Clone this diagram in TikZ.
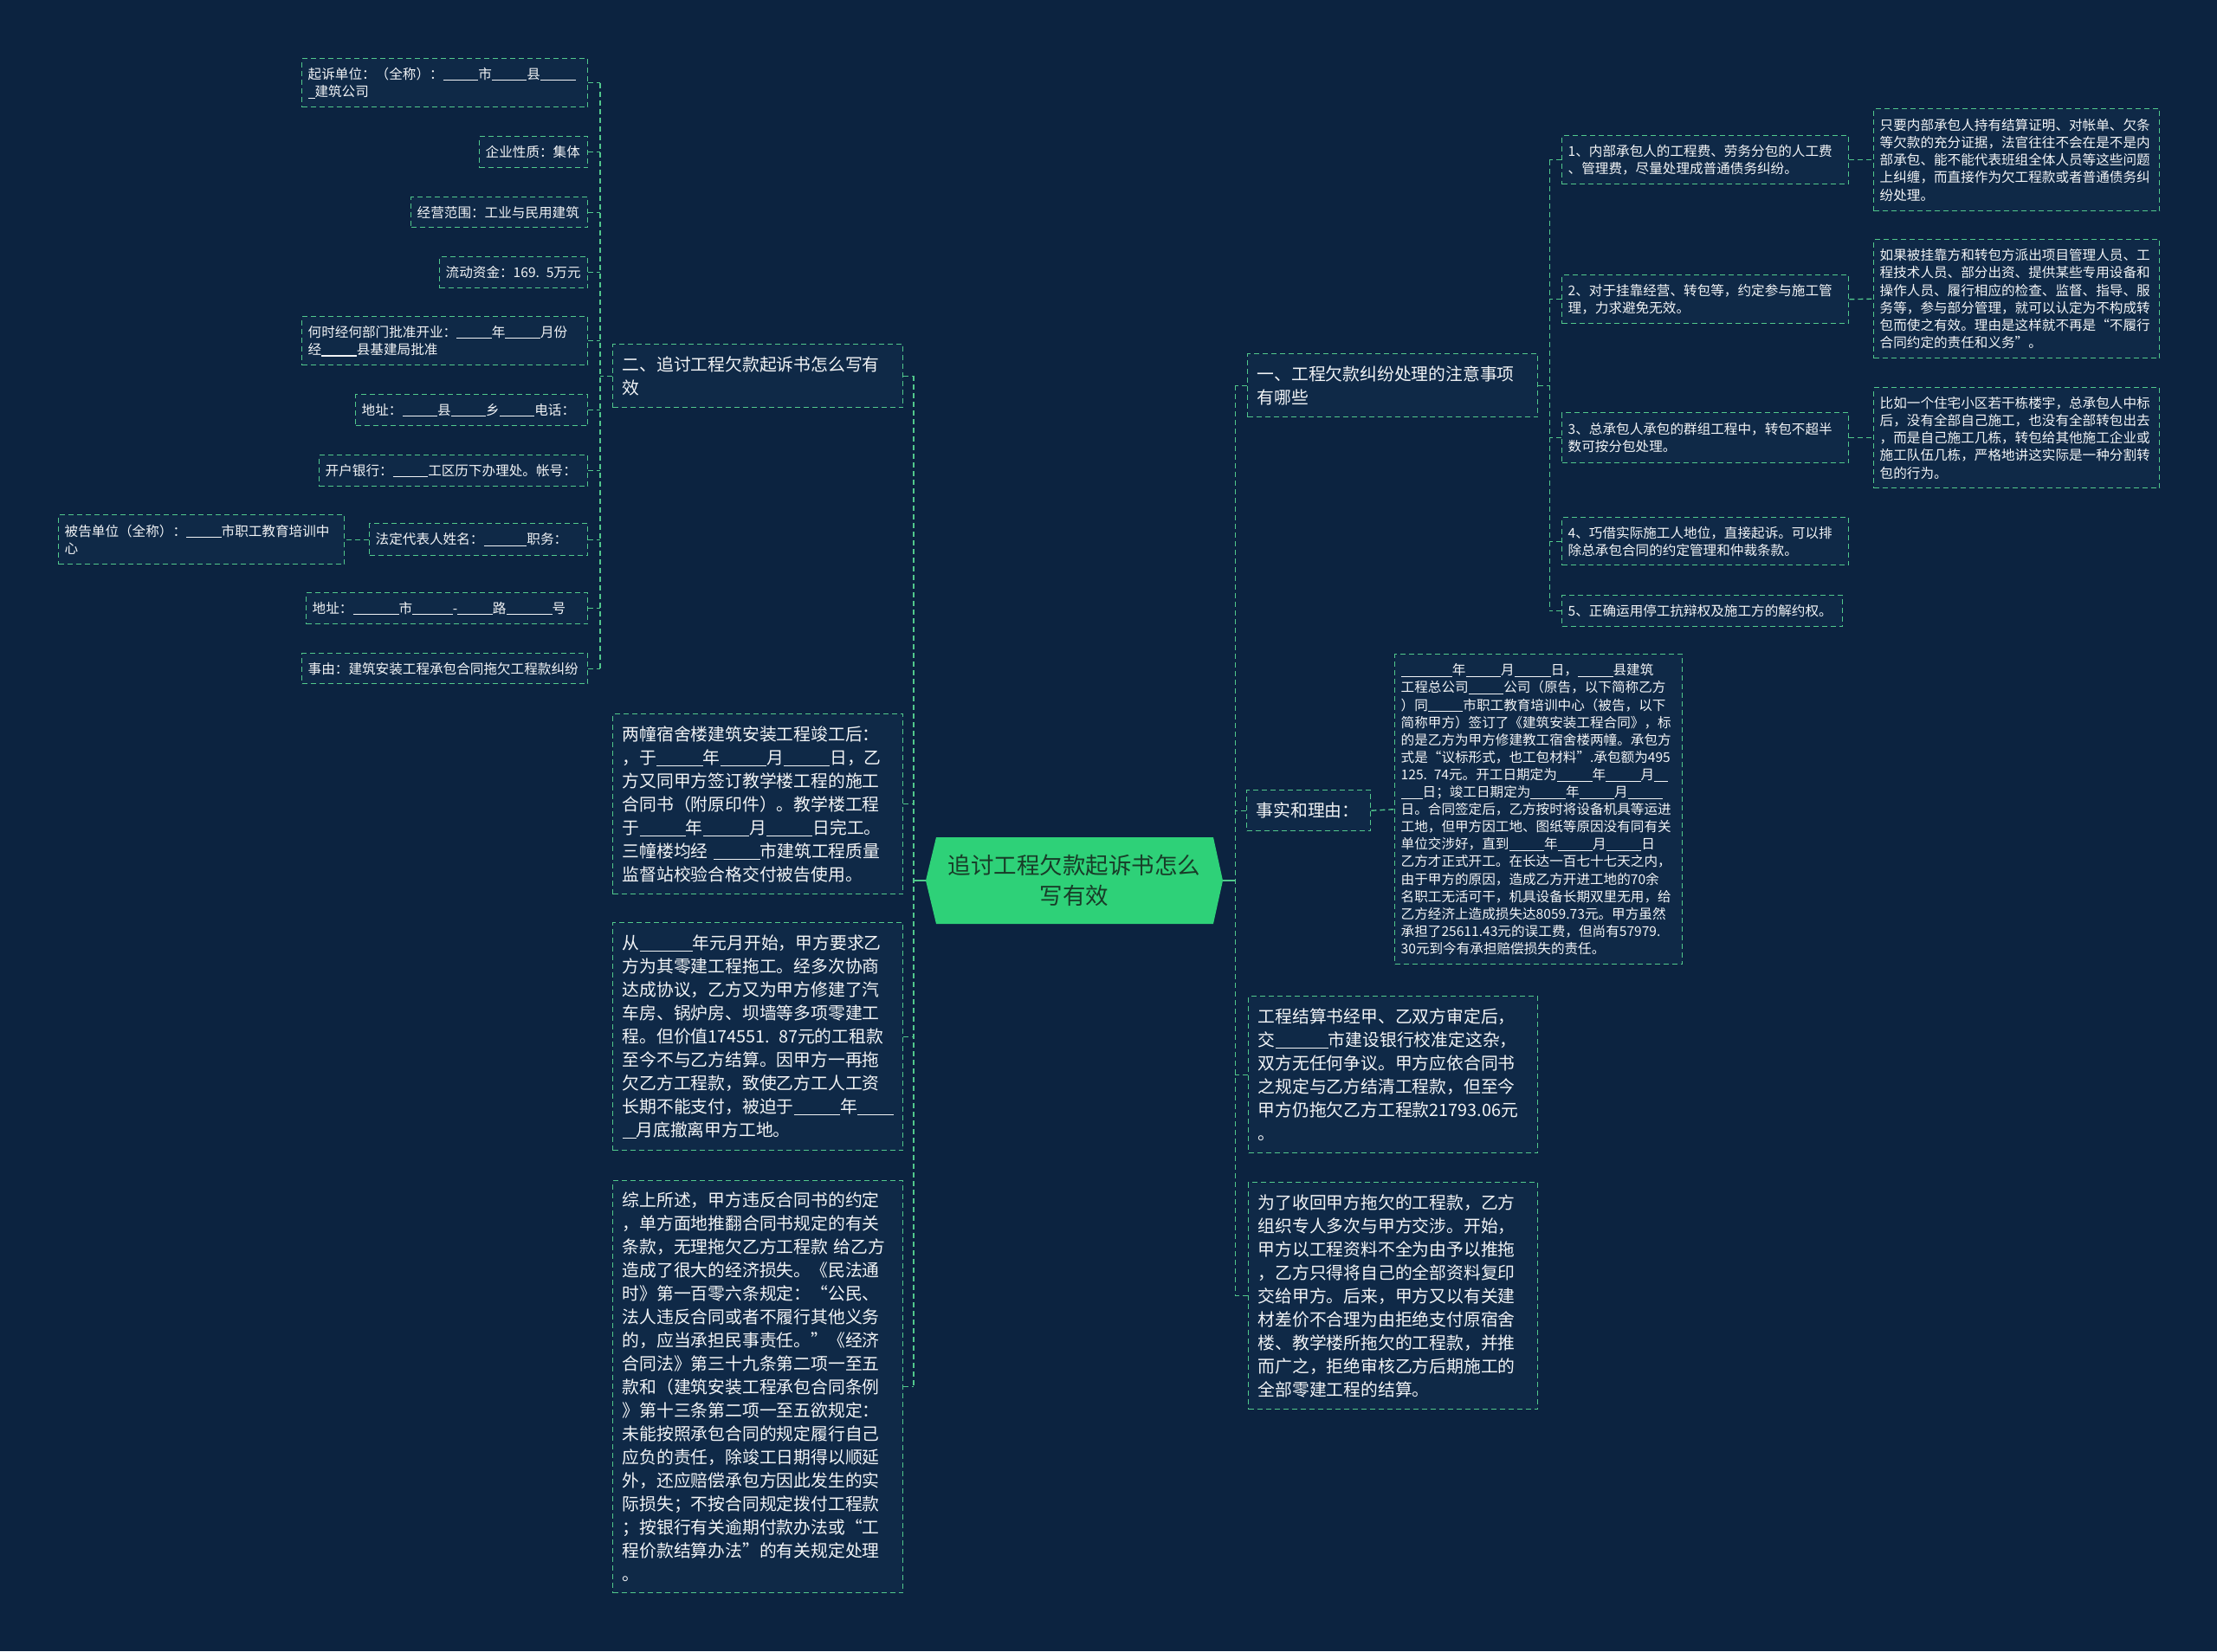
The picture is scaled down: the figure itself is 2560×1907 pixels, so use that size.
\documentclass[tikz,border=0pt]{standalone}
\usepackage{fontspec}
\setmainfont{Noto Sans CJK SC}
\usetikzlibrary{positioning}
\definecolor{bgnavy}{RGB}{12,35,64}
\definecolor{boxnavy}{RGB}{15,41,71}
\definecolor{linkgreen}{RGB}{82,200,140}
\definecolor{rootgreen}{RGB}{46,209,120}
\definecolor{roottext}{RGB}{24,60,40}
\definecolor{leaftext}{RGB}{242,244,246}
\newcommand{\blank}[1]{\rule[-0.14em]{#1em}{0.07em}}

\begin{document}
\begin{tikzpicture}[x=1pt, y=-1pt,
  link/.style={draw=linkgreen, line width=1.4pt, dash pattern=on 6pt off 4pt},
  trunk/.style={draw=linkgreen, line width=2pt},
  leaf/.style={link, fill=boxnavy, text=leaftext, anchor=north west, align=left,
    inner xsep=7pt, inner ysep=0pt, font=\fontsize{15.6}{20.3}\selectfont},
  para/.style={leaf, inner xsep=11pt, font=\fontsize{19.8}{27}\selectfont},
  factbox/.style={leaf, font=\fontsize{15.6}{20.1}\selectfont},
  rootnode/.style={fill=bgnavy, minimum width=343pt, minimum height=100pt, inner sep=0pt,
    text=roottext, align=center, font=\fontsize{26.5}{35}\selectfont,
    path picture={\fill[rootgreen] (path picture bounding box.west)
      -- ([xshift=12pt]path picture bounding box.north west)
      -- ([xshift=-11pt]path picture bounding box.north east)
      -- (path picture bounding box.east)
      -- ([xshift=-11pt]path picture bounding box.south east)
      -- ([xshift=12pt]path picture bounding box.south west) -- cycle;}}]
\useasboundingbox (0,0) rectangle (2560,1907);
\fill[bgnavy] (0,0) rectangle (2560,1907);

% centre
\node[rootnode] (root) at (1240.5,1017) {追讨工程欠款起诉书怎么\\写有效};
\coordinate (lspine) at ([xshift=-14pt]root.west);
\coordinate (rspine) at ([xshift=14pt]root.east);

% left side
\node[para, text width=313pt, minimum height=73pt] (b2) at (707,397) {二、追讨工程欠款起诉书怎么写有\\效};
\node[para, text width=313pt, minimum height=208pt] (b3) at (707,824) {两幢宿舍楼建筑安装工程竣工后：\\
，于\blank{2.7}年\blank{2.7}月\blank{2.7}日，乙\\
方又同甲方签订教学楼工程的施工\\
合同书（附原印件）。教学楼工程\\
于\blank{2.7}年\blank{2.7}月\blank{2.7}日完工。\\
三幢楼均经 \blank{2.7}市建筑工程质量\\
监督站校验合格交付被告使用。};
\node[para, text width=313pt, minimum height=263pt] (b4) at (707,1065) {从\blank{3.1}年元月开始，甲方要求乙\\
方为其零建工程拖工。经多次协商\\
达成协议，乙方又为甲方修建了汽\\
车房、锅炉房、坝墙等多项零建工\\
程。但价值174551. 87元的工租款\\
至今不与乙方结算。因甲方一再拖\\
欠乙方工程款，致使乙方工人工资\\
长期不能支付，被迫于\blank{2.7}年\blank{2.1}\\
\blank{0.8}月底撤离甲方工地。};
\node[para, text width=313pt, minimum height=476pt] (b5) at (707,1363) {综上所述，甲方违反合同书的约定\\
，单方面地推翻合同书规定的有关\\
条款，无理拖欠乙方工程款 给乙方\\
造成了很大的经济损失。《民法通\\
时》第一百零六条规定：“公民、\\
法人违反合同或者不履行其他义务\\
的，应当承担民事责任。”《经济\\
合同法》第三十九条第二项一至五\\
款和（建筑安装工程承包合同条例\\
》第十三条第二项一至五欲规定：\\
未能按照承包合同的规定履行自己\\
应负的责任，除竣工日期得以顺延\\
外，还应赔偿承包方因此发生的实\\
际损失；不按合同规定拨付工程款\\
；按银行有关逾期付款办法或“工\\
程价款结算办法”的有关规定处理\\
。};

% details of branch two
\node[leaf, text width=316pt, minimum height=56pt] (s1) at (348,67) {起诉单位：（全称）：\blank{2.6}市\blank{2.6}县\blank{2.6}\\\blank{0.5}建筑公司};
\node[leaf, text width=111pt, minimum height=36pt] (s2) at (553,157) {企业性质：集体};
\node[leaf, text width=190pt, minimum height=35pt] (s3) at (474,227) {经营范围：工业与民用建筑};
\node[leaf, text width=157pt, minimum height=36pt] (s4) at (507,296) {流动资金：169. 5万元};
\node[leaf, text width=316pt, minimum height=56pt] (s5) at (348,365) {何时经何部门批准开业：\blank{2.6}年\blank{2.6}月份\\经\blank{2.6}县基建局批准};
\node[leaf, text width=254pt, minimum height=36pt] (s6) at (410,455) {地址：\blank{2.6}县\blank{2.6}乡\blank{2.6}电话：};
\node[leaf, text width=296pt, minimum height=36pt] (s7) at (368,525) {开户银行：\blank{2.6}工区历下办理处。帐号：};
\node[leaf, text width=238pt, minimum height=37pt] (s8) at (426,604) {法定代表人姓名：\blank{3.2}职务：};
\node[leaf, text width=316pt, minimum height=57pt] (d1) at (67,594) {被告单位（全称）：\blank{2.6}市职工教育培训中\\心};
\node[leaf, text width=311pt, minimum height=36pt] (s9) at (353,684) {地址：\blank{3.4}市\blank{3}-\blank{2.6}路\blank{3.4}号};
\node[leaf, text width=316pt, minimum height=35pt] (s10) at (348,754) {事由：建筑安装工程承包合同拖欠工程款纠纷};
\coordinate (sp2) at ([xshift=-14pt]b2.west);

% right side
\node[para, text width=313pt, minimum height=73pt] (a1) at (1440,408) {一、工程欠款纠纷处理的注意事项\\有哪些};
\node[para, text width=121pt, minimum height=47pt] (r2) at (1439,912) {事实和理由：};
\node[para, text width=312pt, minimum height=181pt] (r3) at (1441,1150) {工程结算书经甲、乙双方审定后，\\
交\blank{3.1}市建设银行校准定这杂，\\
双方无任何争议。甲方应依合同书\\
之规定与乙方结清工程款，但至今\\
甲方仍拖欠乙方工程款21793.06元\\
。};
\node[para, text width=312pt, minimum height=262pt] (r4) at (1441,1365) {为了收回甲方拖欠的工程款，乙方\\
组织专人多次与甲方交涉。开始，\\
甲方以工程资料不全为由予以推拖\\
，乙方只得将自己的全部资料复印\\
交给甲方。后来，甲方又以有关建\\
材差价不合理为由拒绝支付原宿舍\\
楼、教学楼所拖欠的工程款，并推\\
而广之，拒绝审核乙方后期施工的\\
全部零建工程的结算。};
\node[factbox, text width=318pt, minimum height=358pt] (fact) at (1610,755) {\blank{3.8}年\blank{2.6}月\blank{2.7}日，\blank{2.6}县建筑\\
工程总公司\blank{2.6}公司（原告，以下简称乙方\\
）同\blank{2.6}市职工教育培训中心（被告，以下\\
简称甲方）签订了《建筑安装工程合同》，标\\
的是乙方为甲方修建教工宿舍楼两幢。承包方\\
式是“议标形式，也工包材料”.承包额为495\\
125. 74元。开工日期定为\blank{2.6}年\blank{2.6}月\blank{1}\\
\blank{1.6}日；竣工日期定为\blank{2.6}年\blank{2.6}月\blank{2.6}\\
日。合同签定后，乙方按时将设备机具等运进\\
工地，但甲方因工地、图纸等原因没有同有关\\
单位交涉好，直到\blank{2.6}年\blank{2.6}月\blank{2.6}日\\
乙方才正式开工。在长达一百七十七天之内，\\
由于甲方的原因，造成乙方开进工地的70余\\
名职工无活可干，机具设备长期双里无用，给\\
乙方经济上造成损失达8059.73元。甲方虽然\\
承担了25611.43元的误工费，但尚有57979.\\
30元到今有承担赔偿损失的责任。};

% details of branch one
\node[leaf, text width=317pt, minimum height=56pt] (i1) at (1803,156) {1、内部承包人的工程费、劳务分包的人工费\\、管理费，尽量处理成普通债务纠纷。};
\node[leaf, text width=317pt, minimum height=56pt] (i2) at (1803,317) {2、对于挂靠经营、转包等，约定参与施工管\\理，力求避免无效。};
\node[leaf, text width=317pt, minimum height=58pt] (i3) at (1803,476) {3、总承包人承包的群组工程中，转包不超半\\数可按分包处理。};
\node[leaf, text width=317pt, minimum height=55pt] (i4) at (1803,597) {4、巧借实际施工人地位，直接起诉。可以排\\除总承包合同的约定管理和仲裁条款。};
\node[leaf, text width=310pt, minimum height=36pt] (i5) at (1803,687) {5、正确运用停工抗辩权及施工方的解约权。};
\coordinate (sp1) at ([xshift=13pt]a1.east);

\node[leaf, text width=316pt, minimum height=118pt] (fA) at (2163,125) {只要内部承包人持有结算证明、对帐单、欠条\\
等欠款的充分证据，法官往往不会在是不是内\\
部承包、能不能代表班组全体人员等这些问题\\
上纠缠，而直接作为欠工程款或者普通债务纠\\
纷处理。};
\node[leaf, text width=316pt, minimum height=137pt] (fB) at (2163,276) {如果被挂靠方和转包方派出项目管理人员、工\\
程技术人员、部分出资、提供某些专用设备和\\
操作人员、履行相应的检查、监督、指导、服\\
务等，参与部分管理，就可以认定为不构成转\\
包而使之有效。理由是这样就不再是“不履行\\
合同约定的责任和义务”。};
\node[leaf, text width=316pt, minimum height=116pt] (fC) at (2163,447) {比如一个住宅小区若干栋楼宇，总承包人中标\\
后，没有全部自己施工，也没有全部转包出去\\
，而是自己施工几栋，转包给其他施工企业或\\
施工队伍几栋，严格地讲这实际是一种分割转\\
包的行为。};

% connectors
\draw[trunk] (root.west) -- (lspine);
\draw[trunk] (root.east) -- (rspine);
\draw[link] (lspine |- b2.east) -- (lspine |- b5.east);
\foreach \n in {b2,b3,b4,b5}
  \draw[link] (\n.east) -- (lspine |- \n.east);
\draw[link] (rspine |- a1.west) -- (rspine |- r4.west);
\foreach \n in {a1,r2,r3,r4}
  \draw[link] (\n.west) -- (rspine |- \n.west);

\draw[link] (b2.west) -- (sp2);
\draw[link] (sp2 |- s1.east) -- (sp2 |- s10.east);
\foreach \n in {s1,s2,s3,s4,s5,s6,s7,s8,s9,s10}
  \draw[link] (\n.east) -- (sp2 |- \n.east);
\draw[link] (s8.west) -- (d1.east);

\draw[link] (a1.east) -- (sp1);
\draw[link] (sp1 |- i1.west) -- (sp1 |- i5.west);
\foreach \n in {i1,i2,i3,i4,i5}
  \draw[link] (\n.west) -- (sp1 |- \n.west);
\draw[link] (i1.east) -- (fA.west);
\draw[link] (i2.east) -- (fB.west);
\draw[link] (i3.east) -- (fC.west);
\draw[link] (r2.east) -- (fact.west);
\end{tikzpicture}
\end{document}
